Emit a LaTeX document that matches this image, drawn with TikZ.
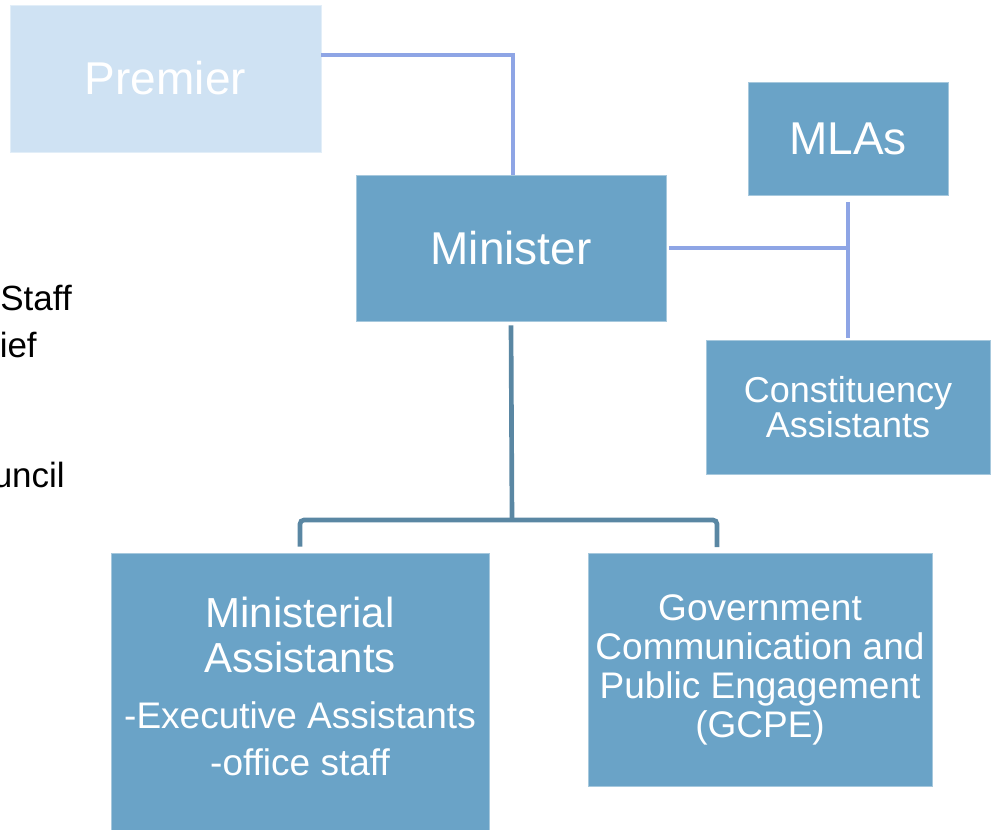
\documentclass[tikz,border=0pt]{standalone}
\usepackage{fontspec}
\setmainfont{Liberation Sans}
\definecolor{boxblue}{HTML}{6AA3C7}
\definecolor{paleblue}{HTML}{CFE2F3}
\definecolor{linkblue}{HTML}{8EA5E5}
\definecolor{treeblue}{HTML}{5A87A3}
\begin{document}
\begin{tikzpicture}[x=0.75pt, y=-0.75pt,
    post/.style={shape=rectangle, fill=boxblue, draw=boxblue!60!white, line width=0.4pt, inner sep=2pt, text=white, align=center},
    bigfont/.style={font=\fontsize{34.5}{36}\selectfont},
    midfont/.style={font=\fontsize{31.5}{33}\selectfont},
    smallfont/.style={font=\fontsize{27.75}{29.25}\selectfont},
    sidenote/.style={font=\fontsize{26.25}{28}\selectfont, anchor=base east, inner sep=0pt},
    lightlink/.style={draw=linkblue, line width=3pt},
    treelink/.style={draw=treeblue, line width=3.5pt}]
    \useasboundingbox (0,0) rectangle (991,829);
    % boxes
    \node[post, bigfont, fill=paleblue, draw=paleblue!60!white, minimum width=233.25pt, minimum height=110.25pt] (premier) at (165.5,78.5) {Premier};
    \node[post, bigfont, minimum width=232.5pt, minimum height=109.5pt] (minister) at (511,248) {Minister};
    \node[post, bigfont, minimum width=150pt, minimum height=84.75pt] (mlas) at (848,138.5) {MLAs};
    \node[post, font=\fontsize{27}{26.25}\selectfont, minimum width=213pt, minimum height=100.5pt] (const) at (848,407) {Constituency\\Assistants};
    \node[post, minimum width=283.5pt, minimum height=215.25pt] (minassist) at (300,696.5) {};
    \node[post, smallfont, minimum width=258pt, minimum height=174.75pt] (gcpe) at (760,669.5) {Government\\Communication and\\Public Engagement\\(GCPE)};
    % text of the ministerial assistants box
    \node[midfont, text=white, anchor=base, inner sep=0pt] (mintitle) at (300,627) {Ministerial};
    \node[midfont, text=white, anchor=base, inner sep=0pt] (mintitleb) at (300,672) {Assistants};
    \node[smallfont, text=white, anchor=base, inner sep=0pt] (execassist) at (300,728) {-Executive Assistants};
    \node[smallfont, text=white, anchor=base, inner sep=0pt] (officestaff) at (300,775) {-office staff};
    % cut off text at the left edge
    \node[sidenote] (staff) at (72,310) {Staff};
    \node[sidenote] (ief) at (37,357) {ief};
    \node[sidenote] (uncil) at (65,487) {uncil};
    % connectors
    \coordinate (split) at (512,520);
    \coordinate (gcpedrop) at (717,547);
    \draw[lightlink] (premier.east |- 0,55) -| ([xshift=1.5pt]minister.north);
    \draw[lightlink] ([xshift=2pt]minister.east) -- (mlas.south |- minister.east);
    \draw[lightlink] ([yshift=-5pt]mlas.south) -- ([yshift=1.5pt]const.north);
    \draw[treelink] ([yshift=-3pt]minister.south) -- (split);
    \draw[treelink, rounded corners=3pt] ([yshift=4.5pt]minassist.north) |- (split) -| (gcpedrop);
\end{tikzpicture}
\end{document}
